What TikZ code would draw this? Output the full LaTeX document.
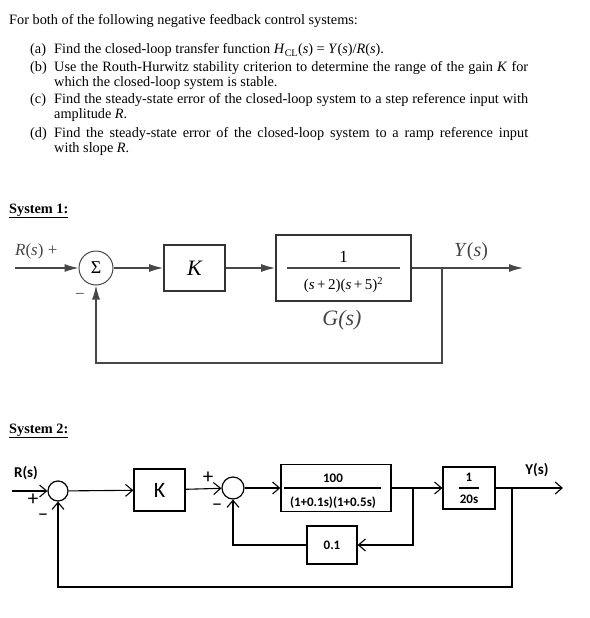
\documentclass[tikz,border=0pt]{standalone}
\usepackage{fontspec}
\setmainfont{Liberation Serif}
\newfontfamily\handfont{Carlito}
\usetikzlibrary{arrows.meta}
\definecolor{scan}{HTML}{474747}

\begin{document}
\begin{tikzpicture}[x=1pt, y=-1pt, every node/.style={inner sep=0pt},
  txt/.style={anchor=base west, font=\fontsize{14.3}{15.5}\selectfont},
  item/.style={txt, text width=474pt, align=justify},
  head/.style={anchor=base west, font=\bfseries\fontsize{14.3}{15}\selectfont},
  sumA/.style={draw=scan, line width=1pt, circle, minimum size=34pt},
  blockA/.style={draw=black!80, line width=1.8pt},
  lineA/.style={draw=scan, line width=1.2pt},
  arrA/.style={lineA, -{Latex[length=14pt, width=8pt]}},
  sumB/.style={draw, line width=1.2pt, circle, minimum size=22pt},
  blockB/.style={draw, line width=1.3pt},
  lineB/.style={draw, line width=1.1pt},
  arrB/.style={lineB, -{Straight Barb[length=7pt, width=12pt]}},
  handlab/.style={font=\handfont\bfseries\fontsize{15}{15}\selectfont},
  blocklab/.style={font=\handfont\bfseries\fontsize{13}{13}\selectfont},
  sign/.style={font=\handfont\fontsize{21}{21}\selectfont}]
\useasboundingbox (0,0) rectangle (589,618);

\node[txt] (intro) at (9, 25) {For both of the following negative feedback control systems:};
\node[txt] (la) at (30, 54) {(a)};
\node[item] (ta) at (54, 54) {Find the closed-loop transfer function \textit{H}\textsubscript{CL}(\textit{s}) = \textit{Y}(\textit{s})/\textit{R}(\textit{s}).};
\node[txt] (lb) at (30, 71) {(b)};
\node[item] (tb) at (54, 71) {Use the Routh-Hurwitz stability criterion to determine the range of the gain \textit{K} for\linebreak which the closed-loop system is stable.};
\node[txt] (lc) at (30, 103) {(c)};
\node[item] (tc) at (54, 103) {Find the steady-state error of the closed-loop system to a step reference input with\linebreak amplitude \textit{R}.};
\node[txt] (ld) at (30, 137) {(d)};
\node[item] (td) at (54, 137) {Find the steady-state error of the closed-loop system to a ramp reference input\linebreak with slope \textit{R}.};

\node[head] (sys1) at (9, 213) {\underline{System 1:}};
\node[sumA, font=\fontsize{18}{18}\selectfont] (sum1) at (96, 268) {Σ};
\coordinate (in1) at (15, 268);
\node[anchor=west, font=\fontsize{17}{17}\selectfont, text=scan] (r1) at (15, 251) {\textit{R}(\textit{s}) +};
\node[font=\fontsize{17}{17}\selectfont, text=scan] (m1) at (80, 296) {−};
\node[blockA, minimum width=61pt, minimum height=46pt, font=\itshape\fontsize{22}{22}\selectfont] (k1) at (194.5, 268) {K};
\node[blockA, minimum width=135pt, minimum height=66pt] (g1) at (343.5, 268) {};
\node[font=\fontsize{17}{17}\selectfont] (g1num) at (343.5, 257) {1};
\node[font=\fontsize{15}{15}\selectfont] (g1den) at (343.5, 285) {(\textit{s}\,+\,2)(\textit{s}\,+\,5)\textsuperscript{2}};
\draw[lineA] ([xshift=12pt]g1.west) -- ([xshift=-12pt]g1.east);
\node[font=\itshape\fontsize{22}{22}\selectfont, text=scan] (g1lab) at (342, 320) {G(s)};
\node[font=\fontsize{20}{20}\selectfont, text=scan] (y1) at (471, 252) {\textit{Y}(\textit{s})};
\coordinate (b1) at (442, 268);
\coordinate (out1) at (523, 268);
\coordinate (fb1) at (442, 363);

\draw[arrA] (in1) -- (sum1);
\draw[arrA] (sum1) -- (k1);
\draw[arrA] (k1) -- (g1);
\draw[arrA] (g1) -- (out1);
\draw[arrA] (b1) -- (fb1) -| (sum1);

\node[head] (sys2) at (9, 433) {\underline{System 2:}};
\node[handlab] (r2) at (26, 473) {R(s)};
\node[sumB, minimum size=20pt] (sum2a) at (58, 491) {};
\coordinate (in2) at (12, 491);
\node[sign] (p2a) at (33, 500) {+};
\node[sign] (m2a) at (43, 517) {–};
\node[blockB, minimum width=51pt, minimum height=42pt, font=\handfont\fontsize{22}{22}\selectfont] (k2) at (159.5, 490) {K};
\node[sumB] (sum2b) at (233, 488) {};
\node[sign] (p2b) at (208, 478) {+};
\node[sign] (m2b) at (217, 507) {–};
\node[blockB, minimum width=110pt, minimum height=47pt] (p2) at (336, 488) {};
\node[blocklab] (p2num) at (333, 478) {100};
\node[blocklab] (p2den) at (333, 503) {(1+0.1s)(1+0.5s)};
\draw[lineB] ([xshift=4pt]p2.west) -- ([xshift=-11pt]p2.east);
\node[blockB, minimum width=52pt, minimum height=42pt] (i2) at (469, 488) {};
\node[blocklab] (i2num) at (469, 477) {1};
\node[blocklab] (i2den) at (469, 499) {20s};
\draw[lineB] ([xshift=-10pt]i2.center) -- ([xshift=10pt]i2.center);
\node[blockB, minimum width=50pt, minimum height=38pt, blocklab] (f2) at (332, 545) {0.1};
\node[handlab] (y2) at (537, 470) {Y(s)};
\coordinate (b2) at (413, 488);
\coordinate (fb2) at (413, 545);
\coordinate (b3) at (512, 488);
\coordinate (out2) at (563, 488);
\coordinate (fb3) at (512, 587);

\draw[arrB] (in2) -- (sum2a);
\draw[arrB] (sum2a) -- (k2);
\draw[arrB] (k2) -- (sum2b);
\draw[arrB] (sum2b) -- (p2);
\draw[arrB] (p2) -- (i2);
\draw[arrB] (i2) -- (out2);
\draw[arrB] (b2) -- (fb2) -- (f2);
\draw[arrB] (f2) -| (sum2b);
\draw[arrB] (b3) -- (fb3) -| (sum2a);
\end{tikzpicture}
\end{document}
